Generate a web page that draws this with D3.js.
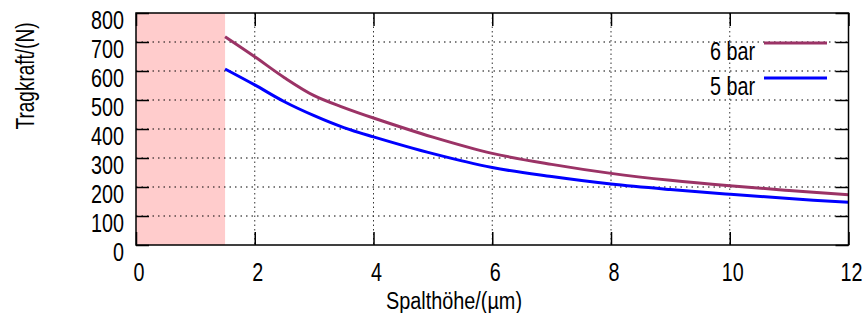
<!DOCTYPE html>
<html><head><meta charset="utf-8">
<script src="https://cdn.jsdelivr.net/npm/d3@7"></script>
<style>
html,body{margin:0;padding:0;background:#fff;}
text{font-family:"Liberation Sans",Arial,sans-serif;fill:#000;}
</style></head>
<body><svg id="chart" width="865" height="313"></svg>
<script>
const xValues6 = [1.5, 2, 2.5, 3, 3.5, 4, 5, 6, 7, 8, 9, 10, 11, 12];
const bar6 = [718, 649, 577, 515, 474, 438, 372, 316, 278, 247, 223, 204, 188, 173];
const xValues5 = [1.5, 2, 2.5, 3, 3.5, 4, 5, 6, 7, 8, 9, 10, 11, 12];
const bar5 = [607, 552, 494, 446, 405, 373, 315, 267, 236, 210, 191, 175, 160, 147];
const seriesNames = ["6 bar", "5 bar"];
const xTicks = [0, 2, 4, 6, 8, 10, 12];
const yTicks = [0, 100, 200, 300, 400, 500, 600, 700, 800];
const shadedRange = [0, 1.5];
const xTitle = "Spalthöhe/(µm)";
const yTitle = "Tragkraft/(N)";

const svg = d3.select("#chart");
const L = 136, R = 848.5, T = 13, B = 245;
const x = d3.scaleLinear().domain([0, 12]).range([L, R]);
const y = d3.scaleLinear().domain([0, 800]).range([B, T]);

// condensed text: regular font squeezed horizontally
function label(g, tx, ty, txt, size, sx, anchor, rot, dy) {
  g.append("text")
    .attr("transform", `translate(${tx},${ty})` + (rot ? ` rotate(${rot})` : "") + ` scale(${sx},1)`)
    .attr("text-anchor", anchor).attr("font-size", size).attr("dy", dy).text(txt);
}

// shaded region
svg.append("rect").attr("x", x(shadedRange[0])).attr("y", T)
  .attr("width", x(shadedRange[1]) - x(shadedRange[0])).attr("height", B - T)
  .attr("fill", "#ffcccc");

// grid
svg.append("g").selectAll("line").data(yTicks.filter(d => d > 0 && d < 800)).join("line")
  .attr("x1", L).attr("x2", R).attr("y1", d => y(d)).attr("y2", d => y(d))
  .attr("stroke", "#000").attr("stroke-width", 1).attr("stroke-dasharray", "1.5,4");
svg.append("g").selectAll("line").data(xTicks.filter(d => d > 0 && d < 12)).join("line")
  .attr("y1", T).attr("y2", B).attr("x1", d => x(d)).attr("x2", d => x(d))
  .attr("stroke", "#333").attr("stroke-width", 1).attr("stroke-dasharray", "1.5,3");

// ticks (inward, mirrored)
const tk = 13;
const yAxisL = d3.axisRight(y).tickValues(yTicks).tickSize(tk).tickFormat("");
const yAxisR = d3.axisLeft(y).tickValues(yTicks).tickSize(tk).tickFormat("");
const xAxisB = d3.axisTop(x).tickValues(xTicks).tickSize(tk).tickFormat("");
const xAxisT = d3.axisBottom(x).tickValues(xTicks).tickSize(tk).tickFormat("");
[[yAxisL, `translate(${L},0)`], [yAxisR, `translate(${R},0)`], [xAxisB, `translate(0,${B})`], [xAxisT, `translate(0,${T})`]].forEach(([ax, tr]) => {
  const g = svg.append("g").attr("transform", tr).call(ax);
  g.select(".domain").remove();
  g.selectAll("line").attr("stroke", "#000").attr("stroke-width", 1.5);
});

// tick labels
const gl = svg.append("g");
yTicks.forEach(d => label(gl, 124, y(d) + 7, d, 26, 0.76, "end", 0, "0.35em"));
xTicks.forEach(d => label(gl, x(d) + 3, 280.5, d, 26, 0.76, "middle", 0, 0));

// lines
const line = d3.line().x(d => x(d[0])).y(d => y(d[1])).curve(d3.curveCatmullRom.alpha(0.5));
const colors = ["#9b3366", "#0000ff"];
const data6 = xValues6.map((v, i) => [v, bar6[i]]);
const data5 = xValues5.map((v, i) => [v, bar5[i]]);
[data6, data5].forEach((d, i) => {
  svg.append("path").datum(d).attr("d", line).attr("fill", "none")
    .attr("stroke", colors[i]).attr("stroke-width", 3);
});

// border
svg.append("rect").attr("x", L).attr("y", T).attr("width", R - L).attr("height", B - T)
  .attr("fill", "none").attr("stroke", "#000").attr("stroke-width", 1.5);

// legend
const legY = [43, 78];
seriesNames.forEach((n, i) => {
  label(svg, 755, legY[i] + 8, n, 26, 0.76, "end", 0, "0.35em");
  svg.append("line").attr("x1", 764).attr("x2", 827).attr("y1", legY[i]).attr("y2", legY[i])
    .attr("stroke", colors[i]).attr("stroke-width", 3);
});

// titles
label(svg, 454, 308.5, xTitle, 24.5, 0.81, "middle", 0, 0);
label(svg, 25, 76, yTitle, 25, 0.76, "middle", -90, "0.35em");
</script></body></html>
